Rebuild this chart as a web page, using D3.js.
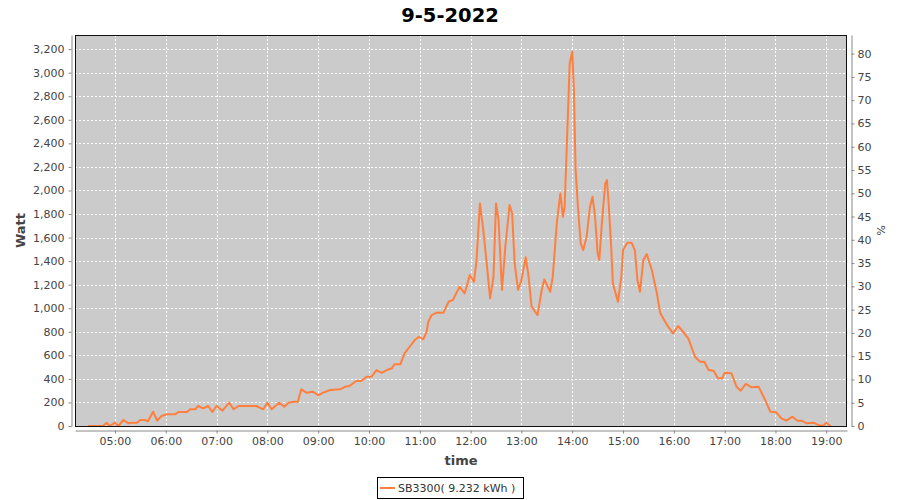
<!DOCTYPE html>
<html>
<head>
<meta charset="utf-8">
<script src="https://cdn.jsdelivr.net/npm/d3@7"></script>
<style>
  body { margin: 0; background: #fff; }
  text { font-family: "DejaVu Sans", sans-serif; }
</style>
</head>
<body>
<div id="root"></div>
<script>
var config = {
  width: 900,
  height: 500,
  left: 75,
  right: 847,
  top: 35,
  bottom: 426
};

// time of reading (hh:mm) and power in watt
const times = [
  '04:28', '04:46', '04:50', '04:54', '05:00', '05:04', '05:10', '05:16', '05:20', '05:26',
  '05:30', '05:35', '05:39', '05:45', '05:50', '05:55', '06:01', '06:11', '06:15', '06:25',
  '06:29', '06:35', '06:38', '06:44', '06:50', '06:55', '07:00', '07:07', '07:15', '07:20',
  '07:26', '07:47', '07:55', '08:00', '08:05', '08:14', '08:20', '08:25', '08:31', '08:36',
  '08:40', '08:46', '08:54', '09:00', '09:06', '09:14', '09:26', '09:32', '09:37', '09:45',
  '09:51', '09:57', '10:03', '10:09', '10:15', '10:21', '10:27', '10:30', '10:37', '10:42',
  '10:48', '10:54', '10:59', '11:04', '11:08', '11:10', '11:14', '11:20', '11:28', '11:34',
  '11:39', '11:47', '11:53', '11:59', '12:04', '12:07', '12:11', '12:15', '12:19', '12:23',
  '12:27', '12:30', '12:33', '12:37', '12:41', '12:46', '12:49', '12:52', '12:56', '13:00',
  '13:05', '13:08', '13:12', '13:19', '13:24', '13:27', '13:34', '13:37', '13:42', '13:46',
  '13:49', '13:51', '13:54', '13:57', '14:00', '14:02', '14:04', '14:07', '14:10', '14:13',
  '14:17', '14:21', '14:24', '14:27', '14:30', '14:32', '14:35', '14:39', '14:41', '14:43',
  '14:46', '14:48', '14:54', '14:58', '15:00', '15:05', '15:10', '15:14', '15:17', '15:20',
  '15:24', '15:28', '15:34', '15:40', '15:44', '15:52', '15:59', '16:05', '16:11', '16:17',
  '16:25', '16:31', '16:36', '16:41', '16:47', '16:52', '16:57', '17:00', '17:08', '17:14',
  '17:19', '17:25', '17:32', '17:40', '17:46', '17:54', '18:01', '18:07', '18:13', '18:20',
  '18:26', '18:31', '18:37', '18:45', '18:51', '18:56', '19:00', '19:05'
];
const watts = [
  0, 0, 28, 0, 28, 0, 51, 23, 28, 28,
  51, 51, 40, 121, 45, 85, 99, 99, 119, 119,
  142, 142, 170, 150, 170, 119, 172, 130, 198, 142,
  170, 170, 142, 198, 142, 198, 164, 198, 206, 206,
  311, 283, 291, 260, 283, 306, 311, 334, 340, 382,
  382, 419, 419, 475, 452, 475, 490, 524, 524, 617,
  673, 730, 758, 736, 800, 885, 942, 962, 962, 1055,
  1070, 1183, 1126, 1282, 1225, 1409, 1890, 1664, 1381, 1084,
  1268, 1890, 1749, 1155, 1522, 1876, 1806, 1381, 1155, 1239,
  1432, 1296, 1013, 942, 1155, 1245, 1140, 1268, 1740, 1975,
  1777, 1862, 2456, 3079, 3178, 2852, 2173, 1834, 1551, 1494,
  1607, 1862, 1947, 1777, 1466, 1409, 1721, 2060, 2088, 1890,
  1522, 1211, 1055, 1268, 1494, 1556, 1556, 1494, 1239, 1140,
  1409, 1460, 1324, 1126, 957, 857, 787, 849, 800, 744,
  588, 546, 546, 475, 470, 405, 405, 452, 447, 334,
  300, 357, 329, 334, 249, 121, 116, 65, 45, 79,
  45, 45, 23, 28, 8, 0, 28, 0
];
const wattTicks = d3.range(0, 3201, 200);
const percentTicks = d3.range(0, 81, 5);
const title = '9-5-2022';
const seriesName = 'SB3300( 9.232 kWh )';

function toDate(hhmm) {
  const [h, m] = hhmm.split(':').map(Number);
  return new Date(2022, 4, 9, h, m);
}

const data = times.map((t, i) => ({ time: toDate(t), watt: watts[i] }));

const svg = d3.select('#root')
  .append('svg')
  .attr('width', config.width)
  .attr('height', config.height);

const x = d3.scaleTime()
  .domain([new Date(2022, 4, 9, 4, 12, 48), new Date(2022, 4, 9, 19, 24, 30)])
  .range([config.left, config.right]);
const y = d3.scaleLinear().domain([0, 3320]).range([config.bottom, config.top]);
const yRight = d3.scaleLinear().domain([0, 84]).range([config.bottom, config.top]);

// Plot background
svg.append('rect')
  .attr('x', config.left)
  .attr('y', config.top)
  .attr('width', config.right - config.left)
  .attr('height', config.bottom - config.top)
  .attr('fill', '#cbcbcb');

// Grid lines
const hourTicks = x.ticks(d3.timeHour.every(1));
const grid = svg.append('g')
  .attr('stroke', '#fff')
  .attr('stroke-width', 1)
  .attr('stroke-dasharray', '2,2');
grid.selectAll('.vgrid')
  .data(hourTicks)
  .enter()
    .append('line')
    .attr('x1', d => Math.round(x(d)) + 0.5)
    .attr('x2', d => Math.round(x(d)) + 0.5)
    .attr('y1', config.top)
    .attr('y2', config.bottom);
grid.selectAll('.hgrid')
  .data(wattTicks.slice(1))
  .enter()
    .append('line')
    .attr('x1', config.left)
    .attr('x2', config.right)
    .attr('y1', d => Math.round(y(d)) + 0.5)
    .attr('y2', d => Math.round(y(d)) + 0.5);

// Series
svg.append('path')
  .datum(data)
  .attr('fill', 'none')
  .attr('stroke', '#ff7f3f')
  .attr('stroke-width', 2)
  .attr('stroke-linejoin', 'round')
  .attr('d', d3.line().x(d => x(d.time)).y(d => y(d.watt)));

// Plot outline
svg.append('rect')
  .attr('x', config.left + 0.5)
  .attr('y', config.top + 0.5)
  .attr('width', config.right - config.left - 1)
  .attr('height', config.bottom - config.top)
  .attr('fill', 'none')
  .attr('stroke', '#111');

function styleAxis(g) {
  g.select('.domain').attr('stroke', '#888');
  g.selectAll('.tick line').attr('stroke', '#888');
  g.selectAll('.tick text')
    .attr('fill', '#444')
    .style('font-family', '"DejaVu Sans", sans-serif')
    .style('font-size', '11px');
}

svg.append('g')
  .attr('transform', 'translate(71.5,0)')
  .call(d3.axisLeft(y).tickValues(wattTicks).tickFormat(d3.format(',')).tickSize(3).tickSizeOuter(0).tickPadding(4))
  .call(styleAxis);

svg.append('g')
  .attr('transform', 'translate(851.5,0)')
  .call(d3.axisRight(yRight).tickValues(percentTicks).tickSize(3).tickSizeOuter(0).tickPadding(3))
  .call(styleAxis);

svg.append('g')
  .attr('transform', 'translate(0,430.5)')
  .call(d3.axisBottom(x).ticks(d3.timeHour.every(1)).tickFormat(d3.timeFormat('%H:%M')).tickSize(3).tickSizeOuter(0).tickPadding(4))
  .call(styleAxis);

// Titles
svg.append('text')
  .attr('x', 450)
  .attr('y', 22)
  .attr('text-anchor', 'middle')
  .style('font-size', '19.5px')
  .style('font-weight', 'bold')
  .attr('fill', '#000')
  .text(title);

svg.append('text')
  .attr('transform', `translate(25,${(config.top + config.bottom) / 2}) rotate(-90)`)
  .attr('text-anchor', 'middle')
  .style('font-size', '13px')
  .style('font-weight', 'bold')
  .attr('fill', '#444')
  .text('Watt');

svg.append('text')
  .attr('x', (config.left + config.right) / 2)
  .attr('y', 465)
  .attr('text-anchor', 'middle')
  .style('font-size', '13px')
  .style('font-weight', 'bold')
  .attr('fill', '#444')
  .text('time');

svg.append('text')
  .attr('transform', `translate(877,${(config.top + config.bottom) / 2}) rotate(90)`)
  .attr('text-anchor', 'middle')
  .style('font-size', '11px')
  .attr('fill', '#444')
  .text('%');

// Legend
const legend = svg.append('g');
legend.append('rect')
  .attr('x', 377.5)
  .attr('y', 477.5)
  .attr('width', 146)
  .attr('height', 21)
  .attr('fill', '#fff')
  .attr('stroke', '#000');
legend.append('line')
  .attr('x1', 380)
  .attr('x2', 395)
  .attr('y1', 488)
  .attr('y2', 488)
  .attr('stroke', '#ff7f3f')
  .attr('stroke-width', 2);
legend.append('text')
  .attr('x', 398)
  .attr('y', 492)
  .style('font-size', '11px')
  .attr('fill', '#333')
  .text(seriesName);
</script>
</body>
</html>
